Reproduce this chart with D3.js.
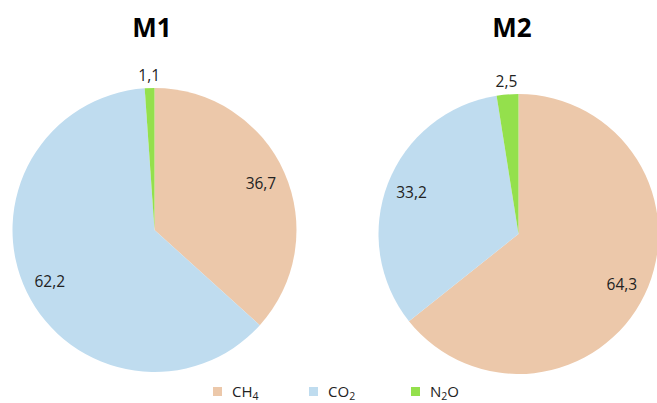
<!DOCTYPE html>
<html>
<head>
<meta charset="utf-8">
<script src="https://cdn.jsdelivr.net/npm/d3@7"></script>
<style>
  html, body { margin: 0; padding: 0; background: #fff; }
  svg { display: block; }
</style>
</head>
<body>
<svg id="chart" width="657" height="403"></svg>
<script>
// Gas shares (%) for the two scenarios
const gases = ["CH4", "CO2", "N2O"];
const panels = ["M1", "M2"];
const valuesM1 = [36.7, 62.2, 1.1];
const valuesM2 = [64.3, 33.2, 2.5];
const gasColors = ["#ecc8aa", "#bfdcef", "#94e04c"];

const svg = d3.select("#chart");

const color = d3.scaleOrdinal().domain(gases).range(gasColors);
const fmt = v => d3.format(".1f")(v).replace(".", ",");

const layout = [
  { name: panels[0], values: valuesM1, cx: 154.5, cy: 230, r: 142, titleX: 152 },
  { name: panels[1], values: valuesM2, cx: 518.5, cy: 234, r: 140, titleX: 512 }
];

const pie = d3.pie().sort(null).value(d => d.value);

layout.forEach(p => {
  const data = gases.map((g, i) => ({ gas: g, value: p.values[i] }));
  const arcs = pie(data);
  const arc = d3.arc().innerRadius(0).outerRadius(p.r);
  const inner = d3.arc().innerRadius(p.r * 0.82).outerRadius(p.r * 0.82);
  const outer = d3.arc().innerRadius(p.r + 13).outerRadius(p.r + 13);

  const g = svg.append("g").attr("transform", `translate(${p.cx},${p.cy})`);
  g.selectAll("path").data(arcs).join("path")
    .attr("d", arc)
    .attr("fill", d => color(d.data.gas));

  g.selectAll("text").data(arcs).join("text")
    .attr("transform", d => {
      const c = (d.data.value < 5 ? outer : inner).centroid(d);
      return `translate(${c[0]},${c[1]})`;
    })
    .attr("text-anchor", "middle")
    .attr("dominant-baseline", "central")
    .attr("font-family", "Open Sans, sans-serif")
    .attr("font-size", 15.5)
    .attr("fill", "#222")
    .text(d => fmt(d.data.value));

  svg.append("text")
    .attr("x", p.titleX).attr("y", 37)
    .attr("text-anchor", "middle")
    .attr("font-family", "Open Sans, sans-serif")
    .attr("font-weight", "bold")
    .attr("font-size", 26)
    .attr("fill", "#000")
    .text(p.name);
});

// Legend with subscripted formulas
const legendItems = [
  { gas: "CH4", x: 213, parts: [["CH", false], ["4", true]] },
  { gas: "CO2", x: 309, parts: [["CO", false], ["2", true]] },
  { gas: "N2O", x: 411, parts: [["N", false], ["2", true], ["O", false]] }
];
const legend = svg.append("g");
legendItems.forEach(it => {
  legend.append("rect")
    .attr("x", it.x).attr("y", 387)
    .attr("width", 9).attr("height", 9)
    .attr("fill", color(it.gas));
  const t = legend.append("text")
    .attr("x", it.x + 19).attr("y", 397)
    .attr("font-family", "Open Sans, sans-serif")
    .attr("font-size", 15)
    .attr("fill", "#222");
  it.parts.forEach(([s, sub]) => {
    t.append("tspan")
      .attr("font-size", sub ? 10.5 : 15)
      .attr("dy", sub ? 3 : (t.selectAll("tspan").size() > 1 ? -3 : 0))
      .text(s);
  });
});
</script>
</body>
</html>
